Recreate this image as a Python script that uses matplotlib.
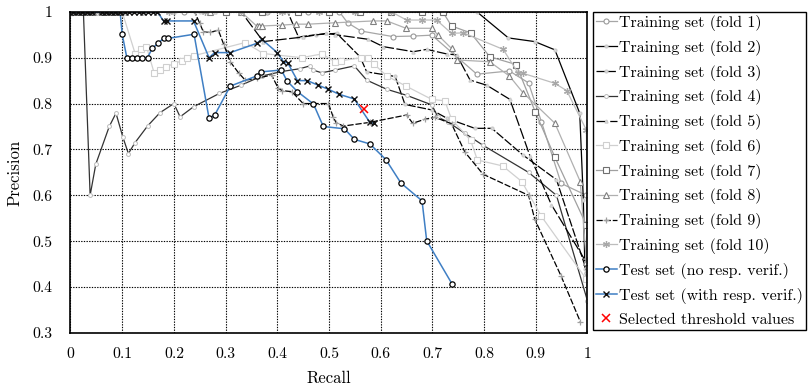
import matplotlib
matplotlib.use("Agg")
import matplotlib.pyplot as plt

plt.rcParams['font.family'] = ['cmr10', 'DejaVu Serif']
plt.rcParams['axes.formatter.use_mathtext'] = True
plt.rcParams['font.size'] = 11

# Training folds: recall / precision
f1_x = [0.0, 0.06, 0.14, 0.22, 0.30, 0.38, 0.46, 0.52, 0.536, 0.562, 0.623, 0.662, 0.699,
        0.786, 0.849, 0.886, 0.911, 0.949, 0.998, 1.0]
f1_y = [1, 1, 1, 1, 1, 1, 1, 1, 0.976, 0.958, 0.946, 0.947, 0.949,
        0.864, 0.871, 0.845, 0.76, 0.626, 0.60, 0.43]

f2_x = [0.0, 0.12, 0.25, 0.38, 0.5, 0.62, 0.72, 0.786, 0.847, 0.898, 0.937, 0.985, 0.992, 0.995]
f2_y = [1, 1, 1, 1, 1, 1, 1, 1, 0.943, 0.935, 0.917, 0.779, 0.59, 0.44]

f3_x = [0.0, 0.1, 0.2, 0.3, 0.42, 0.441, 0.475, 0.515, 0.56, 0.573, 0.628, 0.647, 0.699,
        0.728, 0.782, 0.815, 0.875, 0.94, 1.0]
f3_y = [1, 1, 1, 1, 1, 0.945, 0.95, 0.953, 0.902, 0.869, 0.859, 0.798, 0.786,
        0.768, 0.746, 0.746, 0.688, 0.634, 0.43]

f4_x = [0.0, 0.012, 0.025, 0.038, 0.049, 0.075, 0.088, 0.101, 0.112, 0.125, 0.149, 0.173,
        0.20, 0.212, 0.238, 0.288, 0.33, 0.37, 0.41, 0.444, 0.463, 0.469, 0.486, 0.512,
        0.549, 0.573, 0.612, 0.65, 0.699, 0.711, 0.73, 0.763, 0.798, 0.886, 0.94, 1.0]
f4_y = [1, 1, 1, 0.60, 0.668, 0.75, 0.779, 0.728, 0.691, 0.715, 0.751, 0.78,
        0.80, 0.771, 0.793, 0.822, 0.84, 0.86, 0.87, 0.876, 0.882, 0.873, 0.867, 0.873,
        0.882, 0.851, 0.831, 0.818, 0.797, 0.77, 0.76, 0.735, 0.709, 0.65, 0.60, 0.37]

f5_x = [0.0, 0.1, 0.2, 0.28, 0.33, 0.373, 0.45, 0.495, 0.512, 0.576, 0.605, 0.663, 0.689,
        0.728, 0.747, 0.773, 0.805, 0.85, 0.889, 0.93, 1.0]
f5_y = [1, 1, 1, 1, 1, 0.935, 0.945, 0.953, 0.95, 0.94, 0.924, 0.913, 0.918,
        0.908, 0.906, 0.851, 0.84, 0.809, 0.685, 0.58, 0.45]

f6_x = [0.0, 0.05, 0.1, 0.125, 0.136, 0.147, 0.162, 0.173, 0.185, 0.2, 0.215, 0.225, 0.238,
        0.338, 0.373, 0.447, 0.486, 0.512, 0.523, 0.562, 0.576, 0.587, 0.612, 0.649,
        0.699, 0.724, 0.737, 0.774, 0.787, 0.836, 0.873, 0.911, 0.998]
f6_y = [1, 1, 1, 0.909, 0.918, 0.924, 0.866, 0.873, 0.88, 0.887, 0.893, 0.899, 0.904,
        0.933, 0.909, 0.90, 0.908, 0.891, 0.893, 0.90, 0.90, 0.886, 0.86, 0.838,
        0.809, 0.806, 0.766, 0.72, 0.677, 0.664, 0.63, 0.554, 0.417]

f7_x = [0.0, 0.3, 0.37, 0.44, 0.5, 0.56, 0.62, 0.68, 0.72, 0.737, 0.774, 0.811, 0.862,
        0.899, 0.937, 0.998]
f7_y = [1, 1, 1, 1, 1, 1, 1, 1, 1, 0.969, 0.954, 0.902, 0.885,
        0.782, 0.683, 0.535]

f8_x = [0.0, 0.27, 0.33, 0.36, 0.365, 0.37, 0.41, 0.436, 0.46, 0.512, 0.586, 0.612, 0.649,
        0.699, 0.711, 0.737, 0.748, 0.811, 0.849, 0.875, 0.937, 0.986, 0.998, 1.0]
f8_y = [1, 1, 1, 0.969, 0.969, 0.969, 0.971, 0.973, 0.973, 0.976, 0.98, 0.98, 0.964,
        0.964, 0.949, 0.92, 0.895, 0.891, 0.86, 0.824, 0.757, 0.63, 0.455, 0.30]

f9_x = [0.0, 0.1, 0.17, 0.2, 0.24, 0.25, 0.257, 0.27, 0.286, 0.296, 0.309, 0.325, 0.338,
        0.36, 0.389, 0.402, 0.41, 0.428, 0.45, 0.499, 0.508, 0.514, 0.528, 0.579, 0.65,
        0.662, 0.686, 0.705, 0.737, 0.763, 0.798, 0.886, 0.898, 0.949, 0.986]
f9_y = [1, 1, 1, 1, 1, 0.975, 0.956, 0.955, 0.96, 0.93, 0.891, 0.867, 0.851,
        0.855, 0.862, 0.833, 0.828, 0.826, 0.80, 0.80, 0.771, 0.758, 0.751, 0.759, 0.775,
        0.757, 0.766, 0.77, 0.756, 0.694, 0.646, 0.60, 0.548, 0.424, 0.325]

f10_x = [0.0, 0.05, 0.19, 0.26, 0.33, 0.41, 0.48, 0.55, 0.62, 0.65, 0.68, 0.708, 0.737,
         0.76, 0.837, 0.866, 0.875, 0.937, 0.96, 0.998, 1.0]
f10_y = [1, 1, 1, 1, 1, 1, 1, 1, 1, 0.982, 0.982, 0.982, 0.953,
         0.954, 0.918, 0.866, 0.866, 0.844, 0.828, 0.742, 0.46]

# Test set curves
t1_x = [0.005, 0.014, 0.023, 0.032, 0.041, 0.06, 0.069, 0.078, 0.087, 0.096, 0.10, 0.109,
        0.119, 0.129, 0.139, 0.149, 0.158, 0.169, 0.18, 0.189, 0.239, 0.268, 0.279, 0.309,
        0.36, 0.368, 0.408, 0.419, 0.439, 0.47, 0.489, 0.53, 0.549, 0.579, 0.61, 0.639,
        0.68, 0.689, 0.738]
t1_y = [1, 1, 1, 1, 1, 1, 1, 1, 1, 1, 0.951, 0.90,
        0.90, 0.90, 0.90, 0.90, 0.92, 0.931, 0.942, 0.942, 0.951, 0.768, 0.775, 0.838,
        0.86, 0.869, 0.873, 0.849, 0.826, 0.799, 0.75, 0.745, 0.722, 0.712, 0.678, 0.627,
        0.588, 0.501, 0.407]

t2_x = [0.005, 0.014, 0.023, 0.032, 0.041, 0.06, 0.069, 0.078, 0.087, 0.096, 0.105, 0.114,
        0.123, 0.132, 0.141, 0.15, 0.159, 0.168, 0.18, 0.186, 0.238, 0.268, 0.279, 0.309,
        0.36, 0.37, 0.40, 0.412, 0.42, 0.439, 0.458, 0.479, 0.499, 0.52, 0.549, 0.579,
        0.587]
t2_y = [1, 1, 1, 1, 1, 1, 1, 1, 1, 1, 1, 1,
        1, 1, 1, 1, 1, 1, 0.98, 0.98, 0.98, 0.90, 0.911, 0.911,
        0.931, 0.94, 0.911, 0.891, 0.889, 0.85, 0.85, 0.84, 0.831, 0.82, 0.81, 0.759,
        0.757]

sel_x = [0.568]
sel_y = [0.789]

x_ticks = [0, 0.1, 0.2, 0.3, 0.4, 0.5, 0.6, 0.7, 0.8, 0.9, 1]
x_labels = ['0', '0.1', '0.2', '0.3', '0.4', '0.5', '0.6', '0.7', '0.8', '0.9', '1']
y_ticks = [0.3, 0.4, 0.5, 0.6, 0.7, 0.8, 0.9, 1]
y_labels = ['0.3', '0.4', '0.5', '0.6', '0.7', '0.8', '0.9', '1']

fig = plt.figure(figsize=(8.12, 3.92), dpi=100)
ax = fig.add_axes([0.0868, 0.1505, 0.6367, 0.8195])

lw = 0.9
ax.plot(f1_x, f1_y, color='#a6a6a6', lw=lw, marker='o', ms=3.6, mfc='white', mec='#999999',
        mew=0.8, label='Training set (fold 1)')
ax.plot(f2_x, f2_y, color='black', lw=lw, marker='o', ms=2, mfc='#dddddd', mec='#cccccc',
        label='Training set (fold 2)')
ax.plot(f3_x, f3_y, color='black', lw=lw, dashes=(7, 1.5), marker='o', ms=2, mfc='#dddddd',
        mec='#cccccc', label='Training set (fold 3)')
ax.plot(f4_x, f4_y, color='#333333', lw=lw, marker='o', ms=2.8, mfc='white', mec='#bbbbbb',
        mew=0.7, label='Training set (fold 4)')
ax.plot(f5_x, f5_y, color='black', lw=lw, dashes=(9, 2), marker='^', ms=2.2, mfc='white',
        mec='#cccccc', label='Training set (fold 5)')
ax.plot(f6_x, f6_y, color='#d0d0d0', lw=lw, marker='s', ms=4, mfc='white', mec='#cfcfcf',
        mew=0.8, label='Training set (fold 6)')
ax.plot(f7_x, f7_y, color='#a0a0a0', lw=lw, marker='s', ms=4, mfc='white', mec='#707070',
        mew=0.8, label='Training set (fold 7)')
ax.plot(f8_x, f8_y, color='#b0b0b0', lw=lw, marker='^', ms=4, mfc='white', mec='#808080',
        mew=0.8, label='Training set (fold 8)')
ax.plot(f9_x, f9_y, color='black', lw=lw, dashes=(5, 1.5), marker='+', ms=5, mec='#a0a0a0',
        mew=0.9, label='Training set (fold 9)')
ax.plot(f10_x, f10_y, color='#bdbdbd', lw=lw, marker=(6, 2, 0), ms=5, mec='#a8a8a8',
        mew=0.9, label='Training set (fold 10)')
ax.plot(t1_x, t1_y, color='#3f7fc4', lw=1.1, marker='o', ms=3.8, mfc='white', mec='black',
        mew=0.9, label='Test set (no resp. verif.)')
ax.plot(t2_x, t2_y, color='#3f7fc4', lw=1.1, marker='x', ms=4, mec='#111111',
        mew=1.0, label='Test set (with resp. verif.)')
ax.plot(sel_x, sel_y, ls='none', marker='x', ms=6, mec='red', mew=1.1,
        label='Selected threshold values')

ax.set_xlim(0, 1)
ax.set_ylim(0.3, 1)
ax.set_xticks(x_ticks)
ax.set_xticklabels(x_labels)
ax.set_yticks(y_ticks)
ax.set_yticklabels(y_labels)
ax.tick_params(axis='x', length=0, pad=10, labelsize=11.3)
ax.tick_params(axis='y', length=0, pad=13, labelsize=11.3)
ax.grid(True, color='black', ls=(0, (1.2, 1.2)), lw=0.8)
for s in ax.spines.values():
    s.set_linewidth(1.2)
ax.set_xlabel('Recall', fontsize=12, labelpad=7)
ax.set_ylabel('Precision', fontsize=12, labelpad=7)

leg = ax.legend(loc='upper left', bbox_to_anchor=(1.01, 1.0), fontsize=11.5, frameon=True,
                fancybox=False, edgecolor='black', framealpha=1, handlelength=1.3,
                handletextpad=0.15, borderpad=0.2, labelspacing=0.55, borderaxespad=0)
leg.get_frame().set_linewidth(1.0)

fig.savefig('out.png', dpi=100)
